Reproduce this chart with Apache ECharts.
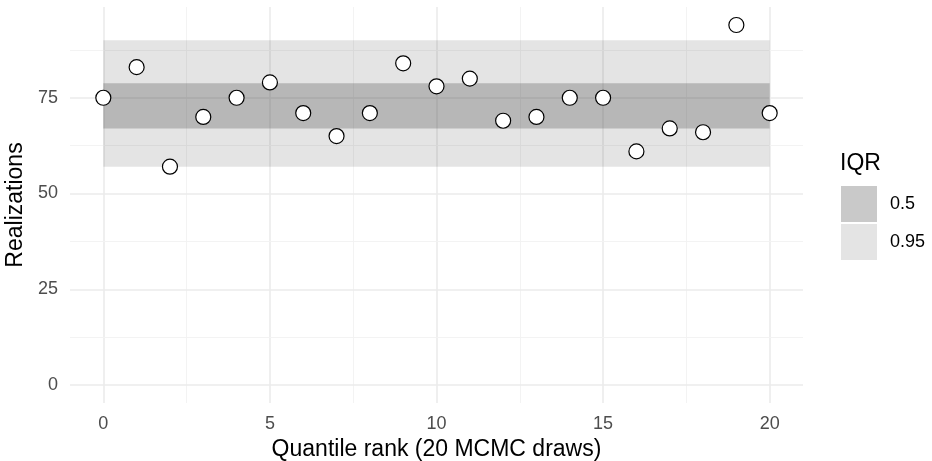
<!DOCTYPE html>
<html>
<head>
<meta charset="utf-8">
<script src="https://cdn.jsdelivr.net/npm/echarts@6/dist/echarts.min.js"></script>
<style>html,body{margin:0;padding:0;background:#fff}#c{width:932px;height:461px}</style>
</head>
<body>
<div id="c"></div>
<script>
const ranks = [0,1,2,3,4,5,6,7,8,9,10,11,12,13,14,15,16,17,18,19,20];
const realizations = [75,83,57,70,75,79,71,65,71,84,78,80,69,70,75,75,61,67,66,94,71];
const band95 = [57, 90];
const band50 = [67, 78.8];
const xTicks = [0,5,10,15,20];
const xMinor = [2.5,7.5,12.5,17.5];
const yTicks = [0,25,50,75];
const yMinor = [12.5,37.5,62.5,87.5];
const xRange = [-1, 21];
const yRange = [-4.7, 98.7];

const FONT = 'Liberation Sans, Arial, sans-serif';
const chart = echarts.init(document.getElementById('c'), null, {renderer:'canvas'});

const gridLines = [];
xTicks.forEach(v => gridLines.push({xAxis: v, lineStyle:{color:'#ebebeb', width:1.6, type:'solid'}}));
xMinor.forEach(v => gridLines.push({xAxis: v, lineStyle:{color:'#f2f2f2', width:0.9, type:'solid'}}));
yTicks.forEach(v => gridLines.push({yAxis: v, lineStyle:{color:'#ebebeb', width:1.6, type:'solid'}}));
yMinor.forEach(v => gridLines.push({yAxis: v, lineStyle:{color:'#f2f2f2', width:0.9, type:'solid'}}));

chart.setOption({
  animation: false,
  backgroundColor: '#ffffff',
  grid: {left: 70, right: 129, top: 7, bottom: 58, containLabel: false, outerBoundsMode: 'none'},
  title: {
    text: 'IQR', left: 840, top: 152, padding: 0,
    textStyle: {fontFamily: FONT, fontSize: 23, fontWeight: 'normal', color: '#000'}
  },
  legend: {
    left: 841, top: 186, orient: 'vertical', padding: 0,
    itemWidth: 36, itemHeight: 36, itemGap: 2, icon: 'rect',
    data: ['0.5', '0.95'],
    textStyle: {fontFamily: FONT, fontSize: 18, color: '#000', padding: [0,0,0,8]},
    selectedMode: false
  },
  xAxis: {
    type: 'value', min: xRange[0], max: xRange[1],
    name: 'Quantile rank (20 MCMC draws)', nameLocation: 'middle', nameGap: 34,
    nameTextStyle: {fontFamily: FONT, fontSize: 23, color: '#000'},
    axisLine: {show: false}, axisTick: {show: false}, splitLine: {show: false},
    axisLabel: {customValues: xTicks, fontFamily: FONT, fontSize: 18, color: '#4d4d4d', margin: 12}
  },
  yAxis: {
    type: 'value', min: yRange[0], max: yRange[1],
    name: 'Realizations', nameLocation: 'middle', nameGap: 43, nameMoveOverlap: false,
    nameTextStyle: {fontFamily: FONT, fontSize: 23, color: '#000'},
    axisLine: {show: false}, axisTick: {show: false}, splitLine: {show: false},
    axisLabel: {customValues: yTicks, fontFamily: FONT, fontSize: 18, color: '#4d4d4d', margin: 12}
  },
  series: [
    {
      type: 'line', name: 'grid', data: [], z: 1, silent: true,
      markLine: {z: 1, symbol: ['none','none'], silent: true, label: {show: false}, data: gridLines, animation: false}
    },
    {
      type: 'line', name: '0.95', data: [], z: 2,
      itemStyle: {color: 'rgba(0,0,0,0.105)'}, lineStyle: {color: 'rgba(0,0,0,0.105)'},
      markArea: {z: 2, silent: true, itemStyle: {color: 'rgba(0,0,0,0.105)'},
        data: [[{coord: [ranks[0], band95[0]]}, {coord: [ranks[ranks.length-1], band95[1]]}]]}
    },
    {
      type: 'line', name: '0.5', data: [], z: 3,
      itemStyle: {color: 'rgba(93,93,93,0.333)'}, lineStyle: {color: 'rgba(93,93,93,0.333)'},
      markArea: {z: 3, silent: true, itemStyle: {color: 'rgba(93,93,93,0.333)'},
        data: [[{coord: [ranks[0], band50[0]]}, {coord: [ranks[ranks.length-1], band50[1]]}]]}
    },
    {
      type: 'scatter', name: 'points', z: 5,
      data: ranks.map((r, i) => [r, realizations[i]]),
      symbol: 'circle', symbolSize: 15,
      itemStyle: {color: '#ffffff', borderColor: '#000000', borderWidth: 1.2, opacity: 1}
    }
  ]
});
</script>
</body>
</html>
